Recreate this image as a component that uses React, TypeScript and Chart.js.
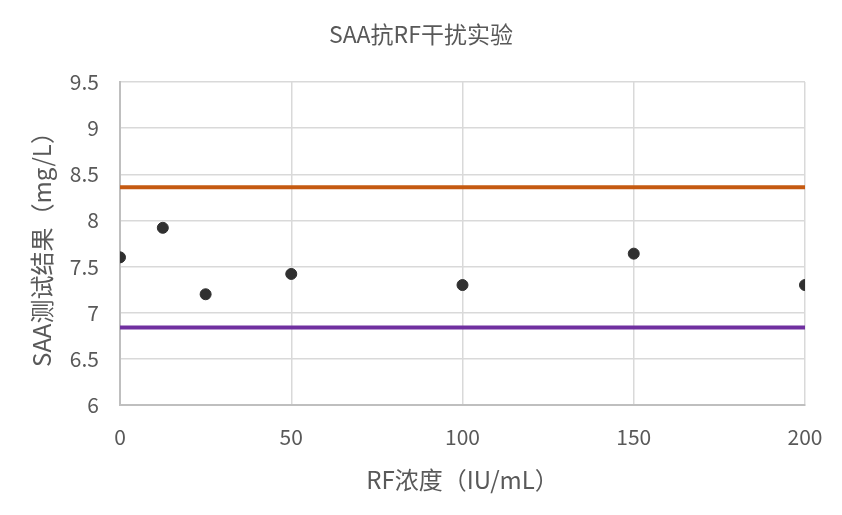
import React, { useEffect, useRef } from "react";
import { Chart, registerables } from "chart.js";

Chart.register(...registerables);

const titleText = "SAA抗RF干扰实验";
const xTitle = "RF浓度（IU/mL）";
const yTitle = "SAA测试结果（mg/L）";
const rfConcentration = [0, 12.5, 25, 50, 100, 150, 200];
const saaResults = [7.6, 7.92, 7.2, 7.42, 7.3, 7.64, 7.3];
const upperLimit = 8.36;
const lowerLimit = 6.84;
const xRange = [0, 200];
const yRange = [6, 9.5];

const FONT = "'Noto Sans CJK SC', 'Noto Sans', sans-serif";
const TEXT = "#595959";

export default function App() {
  const ref = useRef<HTMLCanvasElement | null>(null);
  useEffect(() => {
    if (!ref.current) return;
    const chart = new Chart(ref.current, {
      type: "scatter",
      data: {
        datasets: [
          {
            label: "upper",
            type: "line",
            data: [
              { x: xRange[0], y: upperLimit },
              { x: xRange[1], y: upperLimit },
            ],
            borderColor: "#C55A11",
            borderWidth: 4,
            pointRadius: 0,
            fill: false,
          },
          {
            label: "lower",
            type: "line",
            data: [
              { x: xRange[0], y: lowerLimit },
              { x: xRange[1], y: lowerLimit },
            ],
            borderColor: "#7030A0",
            borderWidth: 4,
            pointRadius: 0,
            fill: false,
          },
          {
            label: "SAA",
            data: rfConcentration.map((x, i) => ({ x, y: saaResults[i] })),
            backgroundColor: "#303030",
            borderColor: "#303030",
            pointRadius: 5.5,
            pointHoverRadius: 5.5,
          },
        ],
      },
      options: {
        animation: false,
        responsive: false,
        maintainAspectRatio: false,
        layout: { padding: { left: 37, right: 37, top: 0, bottom: 0 } },
        plugins: {
          legend: { display: false },
          tooltip: { enabled: false },
          title: {
            display: true,
            text: titleText,
            color: TEXT,
            font: { family: FONT, size: 23, weight: "normal" },
            padding: { top: 20.2, bottom: 34.2 },
          },
        },
        scales: {
          x: {
            type: "linear",
            min: xRange[0],
            max: xRange[1],
            afterFit: (s: any) => {
              s.height = 110;
            },
            ticks: {
              stepSize: 50,
              color: TEXT,
              padding: 19,
              maxRotation: 0,
              font: { family: FONT, size: 21 },
              callback: (v: any) => String(v),
            },
            grid: { color: "#d9d9d9", lineWidth: 1.5, drawTicks: false },
            border: { color: "#bfbfbf", width: 2 },
            title: {
              display: true,
              text: xTitle,
              color: TEXT,
              font: { family: FONT, size: 24 },
              padding: { top: 0, bottom: 20.6 },
            },
          },
          y: {
            type: "linear",
            min: yRange[0],
            max: yRange[1],
            afterFit: (s: any) => {
              s.width = 83;
            },
            ticks: {
              stepSize: 0.5,
              color: TEXT,
              padding: 21,
              font: { family: FONT, size: 21 },
              callback: (v: any) => String(v),
            },
            grid: { color: "#d9d9d9", lineWidth: 1.5, drawTicks: false },
            border: { color: "#bfbfbf", width: 2 },
            title: {
              display: true,
              text: yTitle,
              color: TEXT,
              font: { family: FONT, size: 24 },
              padding: { top: -9.4, bottom: 0 },
            },
          },
        },
      },
    });
    return () => chart.destroy();
  }, []);
  return (
    <div style={{ position: "fixed", left: 0, top: 0, width: 842, height: 515, background: "#fff" }}>
      <canvas ref={ref} width={842} height={515} style={{ width: 842, height: 515 }} />
    </div>
  );
}
